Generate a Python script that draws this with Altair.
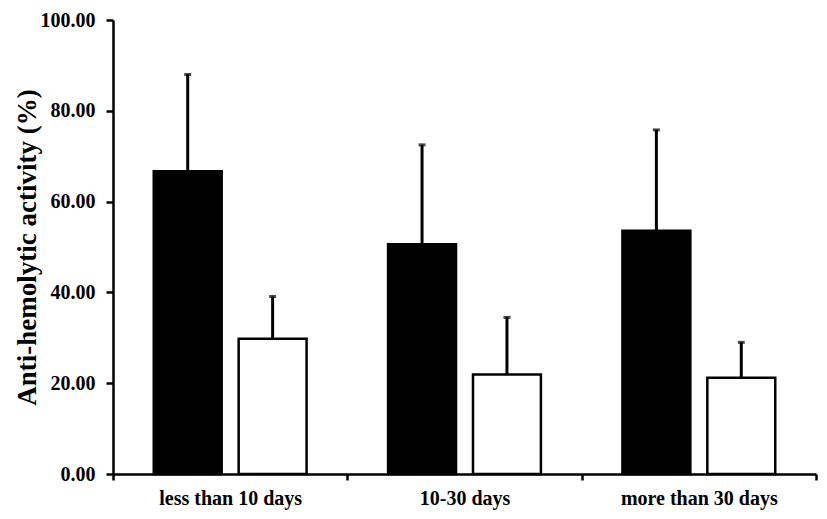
import altair as alt
import pandas as pd

categories = ["less than 10 days", "10-30 days", "more than 30 days"]
groups = ["A", "B"]
black_means = [66.7, 50.6, 53.6]
black_upper = [88.0, 72.5, 75.8]
white_means = [29.8, 21.9, 21.2]
white_upper = [39.1, 34.5, 29.0]

rows = []
for i, c in enumerate(categories):
    rows.append({"cat": c, "grp": "A", "value": black_means[i], "upper": black_upper[i]})
    rows.append({"cat": c, "grp": "B", "value": white_means[i], "upper": white_upper[i]})
df = pd.DataFrame(rows)

FONT = "Liberation Serif"

x_enc = alt.X("cat:N", sort=categories, title=None,
              scale=alt.Scale(paddingInner=0, paddingOuter=0),
              axis=alt.Axis(labelAngle=0, tickBand="extent", tickSize=6,
                            labelPadding=8, labelFontSize=20))
xoff = alt.XOffset("grp:N", sort=groups,
                   scale=alt.Scale(paddingInner=0.2, paddingOuter=0.48))

bars = alt.Chart(df).mark_bar(stroke="black", strokeWidth=2.5).encode(
    x=x_enc,
    xOffset=xoff,
    y=alt.Y("value:Q", title="Anti-hemolytic activity (%)",
            scale=alt.Scale(domain=[0, 100], nice=False),
            axis=alt.Axis(values=[0, 20, 40, 60, 80, 100], format=".2f",
                          tickSize=7, labelPadding=11, labelFontSize=20,
                          titleFontSize=27, titleX=-72)),
    color=alt.Color("grp:N", scale=alt.Scale(domain=groups, range=["black", "white"]),
                    legend=None),
)

rules = alt.Chart(df).mark_rule(color="black", strokeWidth=3).encode(
    x=alt.X("cat:N", sort=categories),
    xOffset=xoff,
    y="value:Q",
    y2="upper:Q",
)

caps = alt.Chart(df).mark_tick(color="black", size=7, thickness=3).encode(
    x=alt.X("cat:N", sort=categories),
    xOffset=xoff,
    y="upper:Q",
)

chart = alt.layer(bars, rules, caps).properties(
    width=703, height=454,
    autosize=alt.AutoSizeParams(type="none"),
    padding={"left": 105, "top": 12, "right": 3, "bottom": 37},
).configure_view(stroke=None).configure_axis(
    grid=False, domainColor="black", domainWidth=2.5, tickColor="black",
    tickWidth=2.5, labelFont=FONT, titleFont=FONT, labelFontWeight="bold",
    titleFontWeight="bold", labelColor="black", titleColor="black",
)

chart.save("out.html", embed_options={"renderer": "svg", "actions": False})
